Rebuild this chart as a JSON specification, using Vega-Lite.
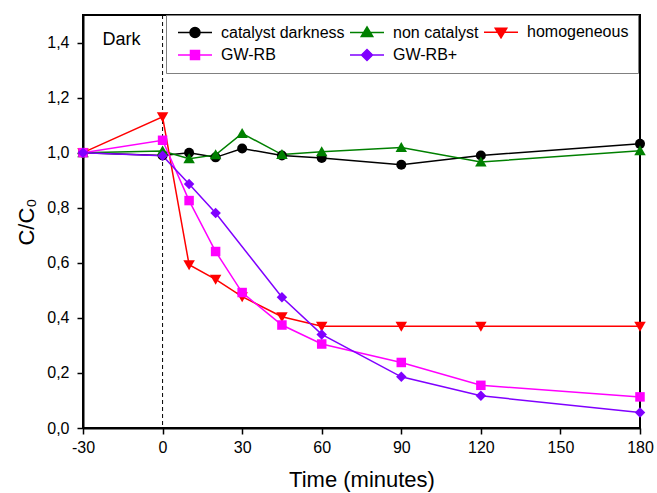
{
  "$schema": "https://vega.github.io/schema/vega-lite/v6.json",
  "width": 557,
  "height": 413,
  "autosize": "none",
  "padding": {"left": 83, "top": 15, "right": 17, "bottom": 65},
  "background": "white",
  "config": {
    "font": "Liberation Sans",
    "view": {"stroke": "black", "strokeWidth": 2},
    "axis": {
      "grid": false,
      "domainColor": "black",
      "domainWidth": 2,
      "tickColor": "black",
      "tickWidth": 1.5,
      "labelFont": "Liberation Sans",
      "labelFontSize": 16,
      "labelColor": "black",
      "titleFont": "Liberation Sans",
      "titleFontSize": 22,
      "titleFontWeight": "normal",
      "titleColor": "black"
    },
    "legend": {
      "labelFont": "Liberation Sans",
      "labelFontSize": 16,
      "labelColor": "black"
    }
  },
  "datasets": {
    "series": [
      {"series": "catalyst darkness", "time": -30, "value": 1.0},
      {"series": "catalyst darkness", "time": 0, "value": 0.99},
      {"series": "catalyst darkness", "time": 10, "value": 1.0},
      {"series": "catalyst darkness", "time": 20, "value": 0.983},
      {"series": "catalyst darkness", "time": 30, "value": 1.015},
      {"series": "catalyst darkness", "time": 45, "value": 0.99},
      {"series": "catalyst darkness", "time": 60, "value": 0.981},
      {"series": "catalyst darkness", "time": 90, "value": 0.956},
      {"series": "catalyst darkness", "time": 120, "value": 0.99},
      {"series": "catalyst darkness", "time": 180, "value": 1.032},
      {"series": "non catalyst", "time": -30, "value": 1.0},
      {"series": "non catalyst", "time": 0, "value": 1.006},
      {"series": "non catalyst", "time": 10, "value": 0.978},
      {"series": "non catalyst", "time": 20, "value": 0.992},
      {"series": "non catalyst", "time": 30, "value": 1.07},
      {"series": "non catalyst", "time": 45, "value": 0.993},
      {"series": "non catalyst", "time": 60, "value": 1.003},
      {"series": "non catalyst", "time": 90, "value": 1.019},
      {"series": "non catalyst", "time": 120, "value": 0.966},
      {"series": "non catalyst", "time": 180, "value": 1.007},
      {"series": "homogeneous", "time": -30, "value": 1.0},
      {"series": "homogeneous", "time": 0, "value": 1.13},
      {"series": "homogeneous", "time": 10, "value": 0.593},
      {"series": "homogeneous", "time": 20, "value": 0.54},
      {"series": "homogeneous", "time": 30, "value": 0.477},
      {"series": "homogeneous", "time": 45, "value": 0.404},
      {"series": "homogeneous", "time": 60, "value": 0.37},
      {"series": "homogeneous", "time": 90, "value": 0.37},
      {"series": "homogeneous", "time": 120, "value": 0.37},
      {"series": "homogeneous", "time": 180, "value": 0.37},
      {"series": "GW-RB", "time": -30, "value": 1.0},
      {"series": "GW-RB", "time": 0, "value": 1.045},
      {"series": "GW-RB", "time": 10, "value": 0.826},
      {"series": "GW-RB", "time": 20, "value": 0.641},
      {"series": "GW-RB", "time": 30, "value": 0.492},
      {"series": "GW-RB", "time": 45, "value": 0.374},
      {"series": "GW-RB", "time": 60, "value": 0.305},
      {"series": "GW-RB", "time": 90, "value": 0.238},
      {"series": "GW-RB", "time": 120, "value": 0.155},
      {"series": "GW-RB", "time": 180, "value": 0.113},
      {"series": "GW-RB+", "time": -30, "value": 1.0},
      {"series": "GW-RB+", "time": 0, "value": 0.989},
      {"series": "GW-RB+", "time": 10, "value": 0.886},
      {"series": "GW-RB+", "time": 20, "value": 0.781},
      {"series": "GW-RB+", "time": 45, "value": 0.475},
      {"series": "GW-RB+", "time": 60, "value": 0.34},
      {"series": "GW-RB+", "time": 90, "value": 0.186},
      {"series": "GW-RB+", "time": 120, "value": 0.117},
      {"series": "GW-RB+", "time": 180, "value": 0.056}
    ],
    "marker": [{"time": 0}],
    "label": [{"time": -15.5, "value": 1.41, "text": "Dark"}]
  },
  "layer": [
    {
      "data": {"name": "marker"},
      "mark": {"type": "rule", "color": "black", "strokeWidth": 1, "strokeDash": [4, 3]},
      "encoding": {
        "x": {"field": "time", "type": "quantitative", "scale": {"domain": [-30, 180], "nice": false}}
      }
    },
    {
      "data": {"name": "label"},
      "mark": {"type": "text", "font": "Liberation Sans", "fontSize": 18, "color": "black"},
      "encoding": {
        "x": {"field": "time", "type": "quantitative"},
        "y": {"field": "value", "type": "quantitative"},
        "text": {"field": "text"}
      }
    },
    {
      "data": {"name": "series"},
      "mark": {"type": "line", "strokeWidth": 1.5},
      "encoding": {
        "x": {
          "field": "time", "type": "quantitative",
          "scale": {"domain": [-30, 180], "nice": false},
          "axis": {
            "title": "Time (minutes)",
            "values": [-30, -15, 0, 15, 30, 45, 60, 75, 90, 105, 120, 135, 150, 165, 180],
            "labelExpr": "datum.value % 30 == 0 ? replace(datum.label, '−', '-') : ''",
            "tickSize": {"condition": {"test": "datum.value % 30 == 0", "value": 6}, "value": 3},
            "labelPadding": 5,
            "titlePadding": 14,
            "labelFlush": false,
            "labelOverlap": false
          }
        },
        "y": {
          "field": "value", "type": "quantitative",
          "scale": {"domain": [0, 1.5], "nice": false},
          "axis": {
            "title": "C/C₀",
            "values": [0, 0.1, 0.2, 0.3, 0.4, 0.5, 0.6, 0.7, 0.8, 0.9, 1.0, 1.1, 1.2, 1.3, 1.4, 1.5],
            "labelExpr": "round(datum.value * 10) % 2 == 0 && datum.value < 1.45 ? replace(format(datum.value, '.1f'), '.', ',') : ''",
            "tickSize": {"condition": {"test": "round(datum.value * 10) % 2 == 0", "value": 6}, "value": 3},
            "labelPadding": 8,
            "titlePadding": 8,
            "labelFlush": false,
            "labelOverlap": false
          }
        },
        "stroke": {
          "field": "series", "type": "nominal",
          "scale": {
            "domain": ["catalyst darkness", "non catalyst", "homogeneous", "GW-RB", "GW-RB+"],
            "range": ["#000000", "#008000", "#ff0000", "#ff00ff", "#8000ff"]
          },
          "legend": null
        }
      }
    },
    {
      "data": {"name": "series"},
      "mark": {"type": "point", "filled": true, "size": 100, "opacity": 1},
      "encoding": {
        "x": {"field": "time", "type": "quantitative"},
        "y": {"field": "value", "type": "quantitative"},
        "fill": {
          "field": "series", "type": "nominal",
          "scale": {
            "domain": ["catalyst darkness", "non catalyst", "homogeneous", "GW-RB", "GW-RB+"],
            "range": ["#000000", "#008000", "#ff0000", "#ff00ff", "#8000ff"]
          },
          "legend": null
        },
        "shape": {
          "field": "series", "type": "nominal",
          "scale": {
            "domain": ["catalyst darkness", "non catalyst", "homogeneous", "GW-RB", "GW-RB+"],
            "range": ["circle", "M0,-1.1L1.15,0.9L-1.15,0.9Z", "M0,1.1L1.15,-0.9L-1.15,-0.9Z", "M-0.95,-0.95H0.95V0.95H-0.95Z", "M0,-1.05L1.05,0L0,1.05L-1.05,0Z"]
          },
          "legend": null
        }
      }
    },
    {
      "data": {"name": "series"},
      "mark": {"type": "point", "filled": true, "size": 100, "opacity": 0, "strokeWidth": 1.5},
      "encoding": {
        "x": {"field": "time", "type": "quantitative"},
        "y": {"field": "value", "type": "quantitative"},
        "fill": {
          "field": "series", "type": "nominal",
          "scale": {
            "domain": ["catalyst darkness", "non catalyst", "homogeneous", "GW-RB", "GW-RB+"],
            "range": ["#000000", "#008000", "#ff0000", "#ff00ff", "#8000ff"]
          },
          "legend": {
            "title": null, "orient": "none", "legendX": 83, "legendY": 0,
            "direction": "horizontal", "columns": 3, "columnPadding": 2, "rowPadding": 5,
            "padding": 9, "strokeColor": "#808080", "fillColor": "white",
            "symbolSize": 100, "symbolOpacity": 1, "symbolStrokeWidth": 1.5, "labelOffset": 30
          }
        },
        "stroke": {
          "field": "series", "type": "nominal",
          "scale": {
            "domain": ["catalyst darkness", "non catalyst", "homogeneous", "GW-RB", "GW-RB+"],
            "range": ["#000000", "#008000", "#ff0000", "#ff00ff", "#8000ff"]
          },
          "legend": {
            "title": null, "orient": "none", "legendX": 83, "legendY": 0,
            "direction": "horizontal", "columns": 3, "columnPadding": 2, "rowPadding": 5,
            "padding": 9, "strokeColor": "#808080", "fillColor": "white",
            "symbolSize": 100, "symbolOpacity": 1, "symbolStrokeWidth": 1.5, "labelOffset": 30
          }
        },
        "shape": {
          "field": "series", "type": "nominal",
          "scale": {
            "domain": ["catalyst darkness", "non catalyst", "homogeneous", "GW-RB", "GW-RB+"],
            "range": [
              "M-1,0H1.4M3.4,0H5.8M1.4,0A1,1,0,1,0,3.4,0A1,1,0,1,0,1.4,0Z",
              "M-1,0H5.8M2.4,-1.1L3.55,0.8L1.25,0.8Z",
              "M-1,0H5.8M2.4,1.1L3.55,-0.8L1.25,-0.8Z",
              "M-1,0H5.8M1.5,-0.9H3.3V0.9H1.5Z",
              "M-1,0H5.8M2.4,-1.1L3.5,0L2.4,1.1L1.3,0Z"
            ]
          },
          "legend": {
            "title": null, "orient": "none", "legendX": 83, "legendY": 0,
            "direction": "horizontal", "columns": 3, "columnPadding": 2, "rowPadding": 5,
            "padding": 9, "strokeColor": "#808080", "fillColor": "white",
            "symbolSize": 100, "symbolOpacity": 1, "symbolStrokeWidth": 1.5, "labelOffset": 30
          }
        }
      }
    }
  ],
  "resolve": {"scale": {"shape": "independent", "fill": "independent", "stroke": "independent"}}
}
